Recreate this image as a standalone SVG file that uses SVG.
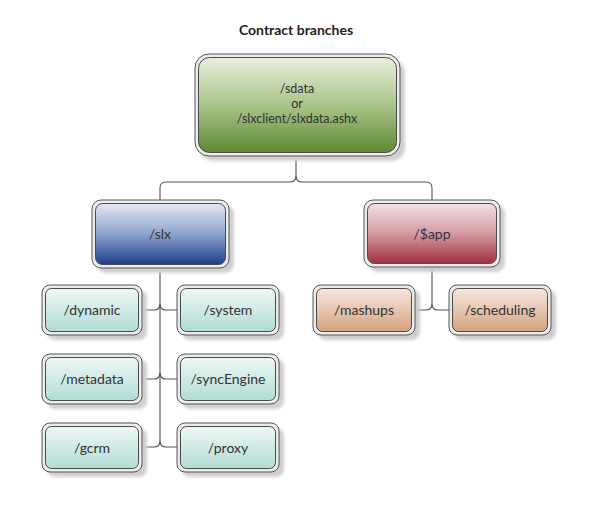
<svg xmlns="http://www.w3.org/2000/svg" width="593" height="506" viewBox="0 0 593 506">
<style>
text{font-family:Lato,"Open Sans","Liberation Sans",sans-serif;font-size:14px;fill:#333;text-anchor:middle}
.title{font-weight:bold;font-size:14px;fill:#222}
.rt{font-size:12.5px}
.sh{fill:#cfcfcf}
.out{fill:#ececec;stroke:#555;stroke-width:1}
.in{stroke:#4a4a4a;stroke-width:1}
.con path{fill:none;stroke:#555;stroke-width:1.1}
</style>
<defs>
<filter id="blur" x="-10%" y="-10%" width="120%" height="120%"><feGaussianBlur stdDeviation="1.5"/></filter>
<linearGradient id="gGreen" x1="0" y1="0" x2="0" y2="1"><stop offset="0" stop-color="#e9f0de"/><stop offset="0.5" stop-color="#aac489"/><stop offset="1" stop-color="#5d8a34"/></linearGradient>
<linearGradient id="gBlue" x1="0" y1="0" x2="0" y2="1"><stop offset="0" stop-color="#e4e9f3"/><stop offset="0.5" stop-color="#8ea3cc"/><stop offset="1" stop-color="#1e3d8c"/></linearGradient>
<linearGradient id="gRed" x1="0" y1="0" x2="0" y2="1"><stop offset="0" stop-color="#f3e2e4"/><stop offset="0.5" stop-color="#d49aa2"/><stop offset="1" stop-color="#a0303f"/></linearGradient>
<linearGradient id="gTeal" x1="0" y1="0" x2="0" y2="1"><stop offset="0" stop-color="#eef8f6"/><stop offset="1" stop-color="#b2dcd5"/></linearGradient>
<linearGradient id="gTan" x1="0" y1="0" x2="0" y2="1"><stop offset="0" stop-color="#f8e8de"/><stop offset="1" stop-color="#d3a17f"/></linearGradient>
</defs>
<text class="title" x="296" y="35">Contract branches</text>
<g class="con" id="connectors">
<path d="M296,157 V176 Q296,182 290,182 H166 Q160,182 160,188 V200"/>
<path d="M296,176 Q296,182 302,182 H426 Q432,182 432,188 V200"/>
<path d="M160,268 V441 Q160,447 154,447 H142"/>
<path d="M160,441 Q160,447 166,447 H177"/>
<path d="M142,310 H154 Q160,310 160,304"/>
<path d="M160,304 Q160,310 166,310 H177"/>
<path d="M142,379 H154 Q160,379 160,373"/>
<path d="M160,373 Q160,379 166,379 H177"/>
<path d="M432,267 V304 Q432,310 426,310 H415"/>
<path d="M432,304 Q432,310 438,310 H449"/>
</g>
<g id="root">
<rect class="sh" x="200" y="59" width="205" height="102" rx="14" filter="url(#blur)"/>
<rect class="out" x="195" y="54" width="205" height="102" rx="14"/>
<rect class="in" x="198.5" y="57.5" width="198" height="95" rx="11" fill="url(#gGreen)"/>
<text class="rt" x="297" y="93">/sdata</text>
<text class="rt" x="297" y="108">or</text>
<text class="rt" x="297" y="123">/slxclient/slxdata.ashx</text>
</g>
<g id="slx">
<rect class="sh" x="97" y="205" width="137" height="68" rx="9" filter="url(#blur)"/>
<rect class="out" x="92" y="200" width="137" height="68" rx="9"/>
<rect class="in" x="95.5" y="203.5" width="130" height="61" rx="7" fill="url(#gBlue)"/>
<text x="160" y="239" fill="#2a3550">/slx</text>
</g>
<g id="app">
<rect class="sh" x="369" y="205" width="136" height="67" rx="9" filter="url(#blur)"/>
<rect class="out" x="364" y="200" width="136" height="67" rx="9"/>
<rect class="in" x="367.5" y="203.5" width="129" height="60" rx="7" fill="url(#gRed)"/>
<text x="432" y="239">/$app</text>
</g>
<g id="dynamic">
<rect class="sh" x="47" y="290" width="100" height="50" rx="8" filter="url(#blur)"/>
<rect class="out" x="42" y="285" width="100" height="50" rx="8"/>
<rect class="in" x="45.5" y="288.5" width="93" height="43" rx="6" fill="url(#gTeal)"/>
<text x="92" y="315">/dynamic</text>
</g>
<g id="system">
<rect class="sh" x="182" y="290" width="102" height="50" rx="8" filter="url(#blur)"/>
<rect class="out" x="177" y="285" width="102" height="50" rx="8"/>
<rect class="in" x="180.5" y="288.5" width="95" height="43" rx="6" fill="url(#gTeal)"/>
<text x="228" y="315">/system</text>
</g>
<g id="metadata">
<rect class="sh" x="47" y="359" width="100" height="50" rx="8" filter="url(#blur)"/>
<rect class="out" x="42" y="354" width="100" height="50" rx="8"/>
<rect class="in" x="45.5" y="357.5" width="93" height="43" rx="6" fill="url(#gTeal)"/>
<text x="92" y="384">/metadata</text>
</g>
<g id="syncEngine">
<rect class="sh" x="182" y="359" width="102" height="50" rx="8" filter="url(#blur)"/>
<rect class="out" x="177" y="354" width="102" height="50" rx="8"/>
<rect class="in" x="180.5" y="357.5" width="95" height="43" rx="6" fill="url(#gTeal)"/>
<text x="228" y="384">/syncEngine</text>
</g>
<g id="gcrm">
<rect class="sh" x="47" y="428" width="100" height="49" rx="8" filter="url(#blur)"/>
<rect class="out" x="42" y="423" width="100" height="49" rx="8"/>
<rect class="in" x="45.5" y="426.5" width="93" height="42" rx="6" fill="url(#gTeal)"/>
<text x="92" y="453">/gcrm</text>
</g>
<g id="proxy">
<rect class="sh" x="182" y="428" width="102" height="49" rx="8" filter="url(#blur)"/>
<rect class="out" x="177" y="423" width="102" height="49" rx="8"/>
<rect class="in" x="180.5" y="426.5" width="95" height="42" rx="6" fill="url(#gTeal)"/>
<text x="228" y="453">/proxy</text>
</g>
<g id="mashups">
<rect class="sh" x="318" y="290" width="102" height="50" rx="8" filter="url(#blur)"/>
<rect class="out" x="313" y="285" width="102" height="50" rx="8"/>
<rect class="in" x="316.5" y="288.5" width="95" height="43" rx="6" fill="url(#gTan)"/>
<text x="364" y="315">/mashups</text>
</g>
<g id="scheduling">
<rect class="sh" x="454" y="290" width="102" height="50" rx="8" filter="url(#blur)"/>
<rect class="out" x="449" y="285" width="102" height="50" rx="8"/>
<rect class="in" x="452.5" y="288.5" width="95" height="43" rx="6" fill="url(#gTan)"/>
<text x="500" y="315">/scheduling</text>
</g>
</svg>
